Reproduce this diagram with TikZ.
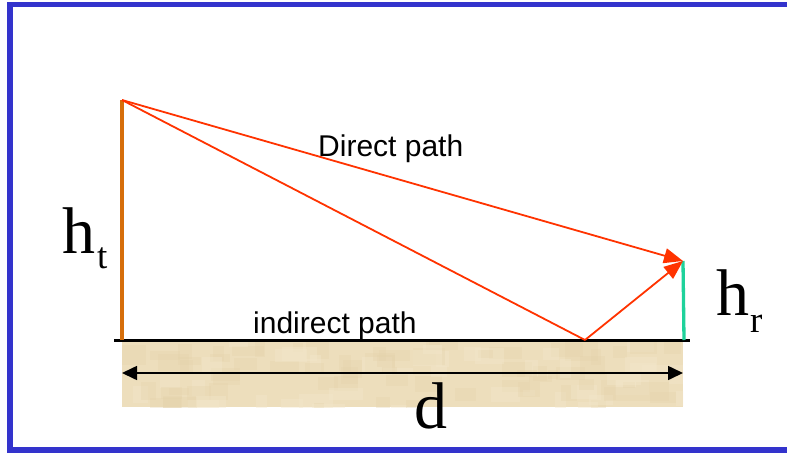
\documentclass[tikz,border=0pt]{standalone}
\usepackage{fontspec}
\setmainfont{Liberation Serif}
\setsansfont{Liberation Sans}
\usetikzlibrary{arrows.meta}
\definecolor{frameblue}{RGB}{51,51,204}
\definecolor{rayred}{RGB}{255,51,0}
\definecolor{txorange}{RGB}{214,110,10}
\definecolor{rxgreen}{RGB}{30,210,155}
\definecolor{sand}{RGB}{237,222,188}
\definecolor{sanddark}{RGB}{229,211,172}
\definecolor{sandlight}{RGB}{243,231,203}
\tikzset{
  ray/.style={draw=rayred, line width=1.8pt},
  rayarrow/.style={ray, -{Triangle[length=19pt,width=15pt]}},
  sanslabel/.style={font=\sffamily\fontsize{30}{34}\selectfont, inner sep=0pt},
  biglabel/.style={font=\fontsize{66}{70}\selectfont, inner sep=0pt},
  sublabel/.style={font=\fontsize{37}{40}\selectfont, inner sep=0pt},
}
\begin{document}
\begin{tikzpicture}[x=1pt,y=-1pt]
\fill[white] (0,0) rectangle (787,453);
\useasboundingbox (0,0) rectangle (787,453);
\draw[frameblue, line width=5.5pt] (787,4.5) -- (10,4.5) -- (10,450.2) -- (787,450.2);

% sand
\fill[sand] (122,341) rectangle (683,407);
\pgfmathsetseed{7}
\begin{scope}
\clip (122,341) rectangle (683,407);
\foreach \i in {0,...,110}{
  \pgfmathsetmacro{\px}{115+rnd*570}
  \pgfmathsetmacro{\py}{336+rnd*70}
  \pgfmathsetmacro{\pw}{10+rnd*25}
  \pgfmathsetmacro{\ph}{6+rnd*14}
  \pgfmathsetmacro{\pc}{rnd}
  \ifdim\pc pt<0.5pt
    \fill[sanddark, opacity=0.35] (\px,\py) rectangle ++(\pw,\ph);
  \else
    \fill[sandlight, opacity=0.4] (\px,\py) rectangle ++(\pw,\ph);
  \fi
}
\end{scope}

% key points
\coordinate (tx) at (122,100);
\coordinate (txbase) at (122,340);
\coordinate (rx) at (683,261);
\coordinate (rxbase) at (684,340);
\coordinate (refl) at (585,340);
\coordinate (gl) at (114,340);
\coordinate (gr) at (690,340);
\coordinate (dl) at (122,373);
\coordinate (dr) at (683,373);

% ground
\draw[black, line width=3pt] (gl) -- (gr);
% antennas
\draw[txorange, line width=3.3pt] (tx) -- (txbase);
\draw[rxgreen, line width=3.3pt] (rx) -- (rxbase);

% rays
\draw[ray] (tx) -- (refl);
\draw[rayarrow] (refl) -- (rx);
\draw[rayarrow] (tx) -- (rx);

% distance
\draw[black, line width=1.6pt, {Triangle[length=15pt,width=14pt]}-{Triangle[length=15pt,width=14pt]}] (dl) -- (dr);

% labels
\node[sanslabel, anchor=base west] (direct) at (318,156) {Direct path};
\node[sanslabel, anchor=base west] (indirect) at (253,333) {indirect path};
\node[biglabel, anchor=base west] (ht) at (62,253) {h};
\node[sublabel, anchor=base west] (htsub) at (97,268) {t};
\node[biglabel, anchor=base west] (hr) at (716,315) {h};
\node[sublabel, anchor=base west] (hrsub) at (750,332) {r};
\node[biglabel, anchor=base west] (d) at (414,428) {d};
\end{tikzpicture}
\end{document}
